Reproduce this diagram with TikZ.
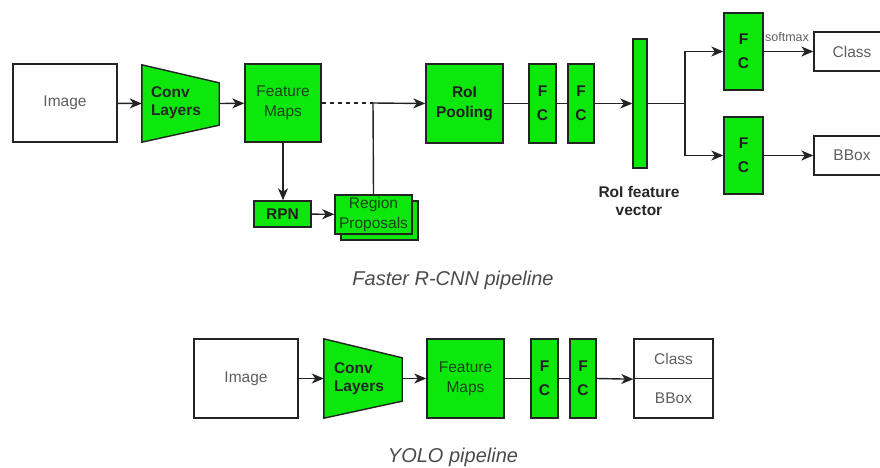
\documentclass[tikz,border=0pt]{standalone}
\usepackage{fontspec}
\setmainfont{Liberation Sans}
\usetikzlibrary{arrows.meta,calc,backgrounds}
\definecolor{gr}{RGB}{12,232,12}
\definecolor{bd}{RGB}{35,35,35}
\definecolor{tx}{RGB}{95,95,95}
\definecolor{fmtx}{RGB}{28,66,28}
\definecolor{cap}{RGB}{75,75,75}
\begin{document}
\begin{tikzpicture}[x=1pt,y=-1pt,
  box/.style={draw=bd, line width=1.4pt, fill=white, text=tx, inner sep=0pt, align=center,
    font=\fontsize{15.5}{20}\selectfont},
  gbox/.style={box, fill=gr, text=fmtx},
  gbold/.style={box, fill=gr, text=black!88, font=\fontsize{15.5}{20}\selectfont\bfseries},
  fcbox/.style={gbold, font=\fontsize{15.5}{24}\selectfont\bfseries},
  trap/.style={draw=bd, line width=1.4pt, fill=gr},
  ln/.style={draw=bd, line width=1.4pt},
  arr/.style={ln, -{Stealth[length=12pt,width=10pt,inset=3.5pt]}},
  captxt/.style={text=cap, font=\fontsize{20}{24}\selectfont\itshape},
  boldlbl/.style={text=black!85, align=center, font=\fontsize{15.5}{18}\selectfont\bfseries}
]
\useasboundingbox (0,0) rectangle (880,468);
\clip (0,0) rectangle (880,468);

% ---------------- Faster R-CNN ----------------
\node[box, minimum width=104pt, minimum height=78pt] (img) at (65,103) {Image};
\node[inner sep=0pt, minimum width=77pt, minimum height=77pt] (conv) at (180.5,103.5) {};
\begin{scope}[on background layer]
  \draw[trap] (conv.north west) -- ($(conv.north east)+(0,18)$) -- ($(conv.south east)+(0,-17)$) -- (conv.south west) -- cycle;
\end{scope}
\node[boldlbl, align=left] (convt) at (176,103) {Conv\\Layers};
\node[gbox, minimum width=76pt, minimum height=78pt] (fm) at (283,103) {Feature\\Maps};
\node[gbold, minimum width=57pt, minimum height=26pt] (rpn) at (282.5,214) {RPN};
\node[gbox, minimum width=77pt, minimum height=39pt] (rpb) at (379.5,220.5) {};
\node[gbox, minimum width=77pt, minimum height=39pt] (rp) at (373.5,214.5) {Region\\Proposals};
\node[gbold, minimum width=77pt, minimum height=79pt] (roi) at (464.5,103.5) {RoI\\Pooling};
\node[fcbox, minimum width=27pt, minimum height=79pt] (fc1) at (542.5,103.5) {F\\C};
\node[fcbox, minimum width=26pt, minimum height=79pt] (fc2) at (581,103.5) {F\\C};
\node[gbox, minimum width=14pt, minimum height=129pt] (vec) at (640,103.5) {};
\node[boldlbl] (vect) at (639,201) {RoI feature\\vector};
\node[fcbox, minimum width=39pt, minimum height=77pt] (fct) at (743.5,51.5) {F\\C};
\node[fcbox, minimum width=39pt, minimum height=77pt] (fcb) at (743.5,155.5) {F\\C};
\node[box, minimum width=76pt, minimum height=39pt] (cls) at (852,51.5) {Class};
\node[box, minimum width=76pt, minimum height=39pt] (bbx) at (852,155.5) {BBox};
\node[text=tx, inner sep=0pt, font=\fontsize{12.5}{14}\selectfont] (sm) at (787,37) {softmax};

\coordinate (j) at (373,103);
\coordinate (br) at (685,103.5);

\draw[arr] (img) -- (conv.west);
\draw[arr] (conv.east) -- (fm);
\draw[ln, dash pattern=on 4pt off 4pt] (fm.east) -- (j);
\draw[arr] (j) -- (roi.west);
\draw[ln] (rp.north) -- (j);
\draw[arr] (fm.south) -- (fm.south |- rpn.north);
\draw[arr] (rpn) -- (rp);
\draw[ln] (roi) -- (fc1);
\draw[ln] (fc1) -- (fc2);
\draw[arr] (fc2) -- (vec);
\draw[ln] (vec.east) -- (br);
\draw[arr] (br) |- (fct.west);
\draw[arr] (br) |- (fcb.west);
\draw[arr] (fct) -- (cls);
\draw[arr] (fcb) -- (bbx);

\node[captxt] (cap1) at (453,280) {Faster R-CNN pipeline};

% ---------------- YOLO ----------------
\node[box, minimum width=104pt, minimum height=79pt] (img2) at (246,378.5) {Image};
\node[inner sep=0pt, minimum width=78pt, minimum height=79pt] (conv2) at (363,378.5) {};
\begin{scope}[on background layer]
  \draw[trap] (conv2.north west) -- ($(conv2.north east)+(0,19)$) -- ($(conv2.south east)+(0,-17)$) -- (conv2.south west) -- cycle;
\end{scope}
\node[boldlbl, align=left] (conv2t) at (359,378.5) {Conv\\Layers};
\node[gbox, minimum width=77pt, minimum height=79pt] (fm2) at (465.5,378.5) {Feature\\Maps};
\node[fcbox, minimum width=27pt, minimum height=79pt] (fc21) at (544.5,378.5) {F\\C};
\node[fcbox, minimum width=26pt, minimum height=79pt] (fc22) at (583,378.5) {F\\C};
\node[box, minimum width=79pt, minimum height=39.5pt] (outc) at (673.5,358.75) {Class};
\node[box, minimum width=79pt, minimum height=39.5pt] (outb) at (673.5,398.25) {BBox};

\draw[arr] (img2) -- (conv2.west);
\draw[arr] (conv2.east) -- (fm2);
\draw[ln] (fm2) -- (fc21);
\draw[ln] (fc21) -- (fc22);
\draw[arr] (fc22.east) -- (outc.south west);

\node[captxt] (cap2) at (453,457) {YOLO pipeline};
\end{tikzpicture}
\end{document}
